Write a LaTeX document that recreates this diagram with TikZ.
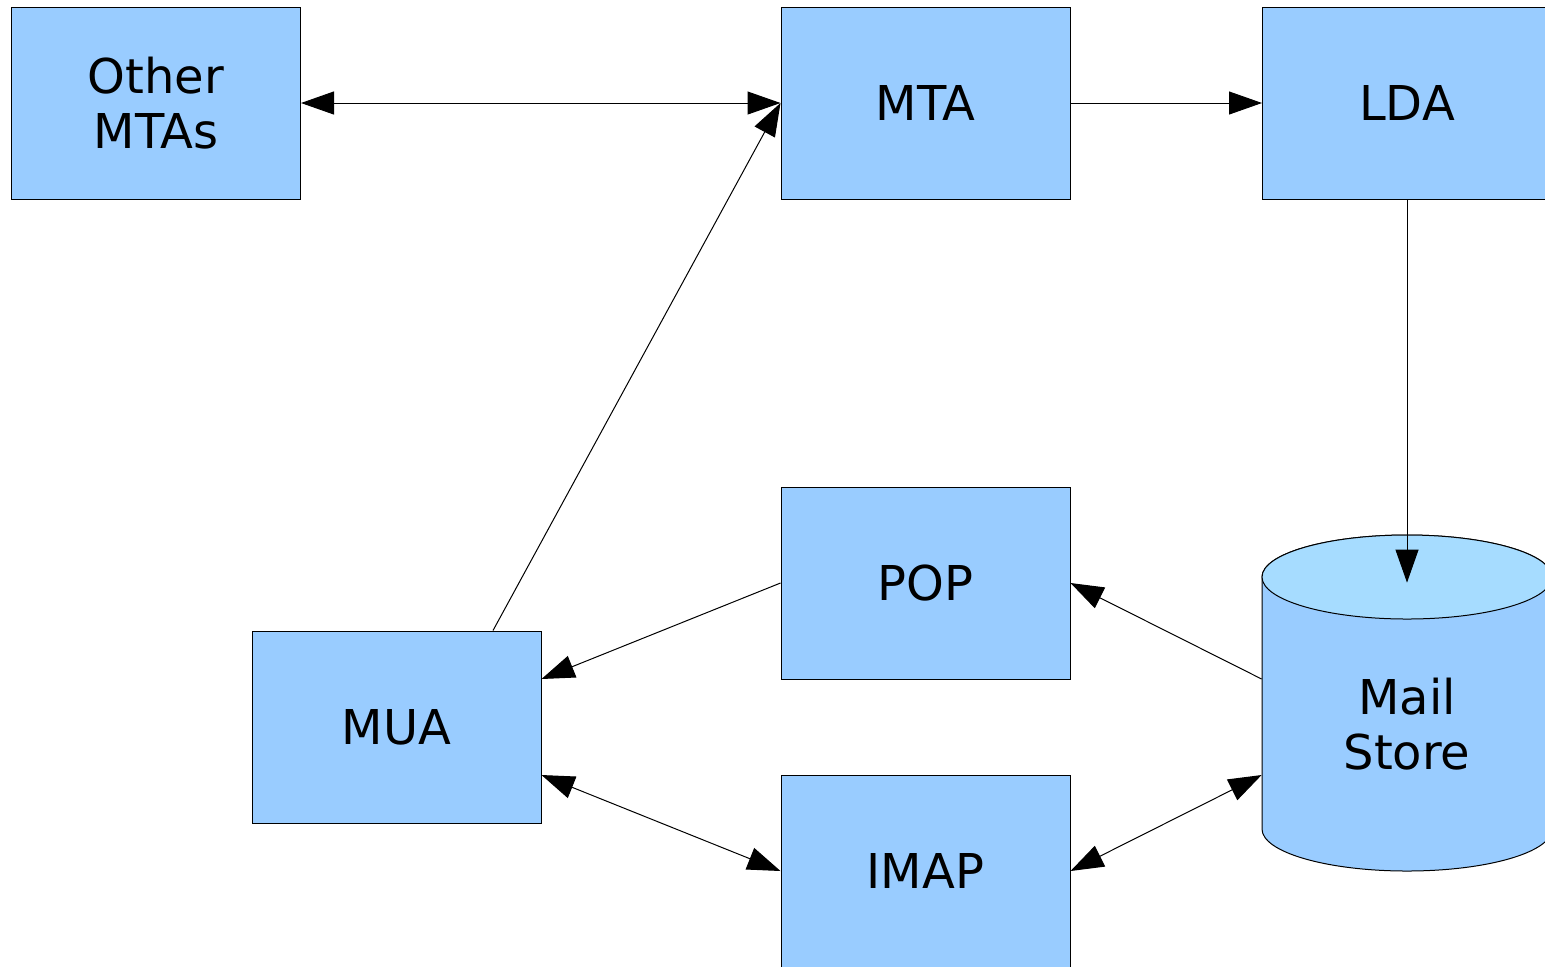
\documentclass[tikz,border=0pt]{standalone}
\usepackage{fontspec}
\setmainfont{DejaVu Sans}
\usetikzlibrary{arrows.meta,calc}
\definecolor{boxblue}{HTML}{99CCFF}
\definecolor{topblue}{HTML}{A6DCFF}
\begin{document}
\begin{tikzpicture}[x=0.5pt,y=-0.5pt,
  box/.style={draw=black, line width=0.5pt, fill=boxblue,
    minimum width=144.5pt, minimum height=96pt, inner sep=0pt,
    align=center, font=\fontsize{24}{27.5}\selectfont},
  tip/.tip={Triangle[length=16.5pt,width=11.5pt]},
  link/.style={line width=0.5pt, -tip},
  dlink/.style={line width=0.5pt, tip-tip}]
\useasboundingbox (0,0) rectangle (1545,966);
\clip (0,0) rectangle (1545,966);

% agent boxes
\node[box] (others) at (156,103)   {Other\\MTAs};
\node[box] (mta)    at (925.5,103) {MTA};
\node[box] (lda)    at (1407,103)  {LDA};
\node[box] (pop)    at (925.5,583) {POP};
\node[box] (mua)    at (396.5,727) {MUA};
\node[box] (imap)   at (925.5,871) {IMAP};

% mail store cylinder
\fill[boxblue, draw=black, line width=0.5pt]
  (1262,829) arc[start angle=180, end angle=360, x radius=72.5pt, y radius=21pt]
  -- (1552,577) arc[start angle=0, end angle=180, x radius=72.5pt, y radius=21pt]
  -- cycle;
\fill[topblue, draw=black, line width=0.5pt]
  (1407,577) ellipse[x radius=72.5pt, y radius=21pt];
\node[minimum width=145pt, minimum height=168pt, inner sep=0pt] (ms) at (1407,703) {};
\node[align=center, font=\fontsize{24}{27.5}\selectfont] (mslabel) at (1407,724) {Mail\\Store};

% connection points
\coordinate (mstop)   at ([yshift=-24pt]ms.north);
\coordinate (msup)    at ([yshift=12pt]ms.west);
\coordinate (msdown)  at ([yshift=-36pt]ms.west);
\coordinate (muatop)  at ([xshift=48.25pt]mua.north);
\coordinate (muaup)   at ([yshift=24pt]mua.east);
\coordinate (muadown) at ([yshift=-24pt]mua.east);

% message flow
\draw[dlink] (others.east) -- (mta.west);
\draw[link]  (mta.east) -- (lda.west);
\draw[link]  (lda.south) -- (mstop);
\draw[link]  (muatop) -- (mta.west);
\draw[link]  (pop.west) -- (muaup);
\draw[link]  (msup) -- (pop.east);
\draw[dlink] (muadown) -- (imap.west);
\draw[dlink] (msdown) -- (imap.east);
\end{tikzpicture}
\end{document}
